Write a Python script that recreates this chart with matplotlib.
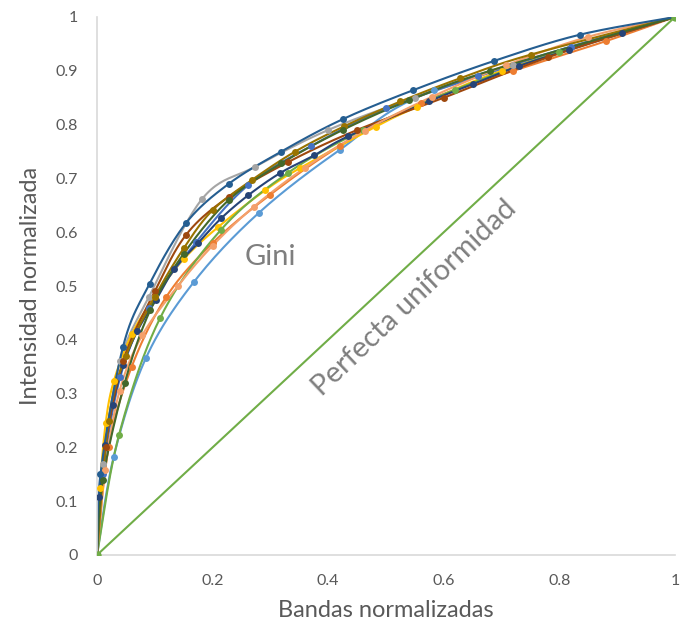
import numpy as np
import matplotlib
matplotlib.use("Agg")
import matplotlib.pyplot as plt

plt.rcParams['font.family'] = ['Lato', 'DejaVu Sans']

# curves (normalised bands vs normalised intensity)
x_lblue = [0, 0.029, 0.085, 0.168, 0.28, 0.42, 0.583, 1]
y_lblue = [0, 0.183, 0.367, 0.508, 0.636, 0.753, 0.864, 1]

x_orange = [0, 0.02, 0.06, 0.12, 0.2, 0.3, 0.42, 0.56, 0.72, 0.88, 1]
y_orange = [0, 0.2, 0.35, 0.48, 0.58, 0.67, 0.76, 0.84, 0.9, 0.955, 1]

x_grey = [0, 0.01, 0.04, 0.09, 0.182, 0.274, 0.4, 0.55, 0.72, 1]
y_grey = [0, 0.17, 0.36, 0.48, 0.662, 0.722, 0.79, 0.85, 0.91, 1]

x_gold = [0, 0.005, 0.015, 0.029, 0.06, 0.1, 0.15, 0.21, 0.291, 0.351, 0.482, 0.554, 0.7, 1]
y_gold = [0, 0.125, 0.245, 0.323, 0.41, 0.48, 0.55, 0.61, 0.678, 0.719, 0.796, 0.833, 0.9, 1]

x_mblue = [0, 0.01, 0.04, 0.09, 0.172, 0.262, 0.37, 0.5, 0.66, 0.82, 1]
y_mblue = [0, 0.15, 0.33, 0.46, 0.582, 0.688, 0.76, 0.83, 0.89, 0.945, 1]

x_green = [0, 0.038, 0.109, 0.214, 0.33, 0.46, 0.62, 0.8, 1]
y_green = [0, 0.223, 0.44, 0.604, 0.71, 0.79, 0.865, 0.935, 1]

x_navy = [0, 0.004, 0.014, 0.027, 0.045, 0.07, 0.102, 0.134, 0.175, 0.215, 0.262,
          0.317, 0.376, 0.434, 0.574, 0.65, 0.73, 0.817, 0.909, 1]
y_navy = [0, 0.108, 0.204, 0.279, 0.353, 0.417, 0.474, 0.532, 0.58, 0.626, 0.669,
          0.71, 0.743, 0.778, 0.843, 0.875, 0.909, 0.939, 0.97, 1]

x_brown = [0, 0.015, 0.045, 0.1, 0.154, 0.228, 0.33, 0.45, 0.6, 0.78, 1]
y_brown = [0, 0.2, 0.36, 0.49, 0.595, 0.666, 0.73, 0.79, 0.85, 0.925, 1]

x_salmon = [0, 0.014, 0.039, 0.078, 0.14, 0.2, 0.271, 0.36, 0.463, 0.58, 0.707, 0.849, 1]
y_salmon = [0, 0.158, 0.305, 0.408, 0.5, 0.575, 0.647, 0.72, 0.789, 0.852, 0.91, 0.963, 1]

x_olive = [0, 0.02, 0.05, 0.1, 0.15, 0.2, 0.268, 0.343, 0.428, 0.525, 0.628, 0.75, 1]
y_olive = [0, 0.25, 0.37, 0.48, 0.57, 0.641, 0.697, 0.75, 0.797, 0.843, 0.886, 0.93, 1]

x_dgreen = [0, 0.01, 0.048, 0.092, 0.15, 0.228, 0.319, 0.425, 0.54, 0.68, 1]
y_dgreen = [0, 0.14, 0.32, 0.455, 0.56, 0.66, 0.728, 0.79, 0.845, 0.9, 1]

x_top = [0, 0.006, 0.045, 0.091, 0.154, 0.228, 0.319, 0.425, 0.547, 0.686, 0.835, 1]
y_top = [0, 0.15, 0.387, 0.504, 0.617, 0.69, 0.75, 0.81, 0.864, 0.918, 0.967, 1]

x_uniform = [0, 1]
y_uniform = [0, 1]

series = [
    (x_lblue, y_lblue, '#5B9BD5'),
    (x_orange, y_orange, '#ED7D31'),
    (x_grey, y_grey, '#A5A5A5'),
    (x_gold, y_gold, '#FFC000'),
    (x_mblue, y_mblue, '#4472C4'),
    (x_green, y_green, '#70AD47'),
    (x_navy, y_navy, '#264478'),
    (x_brown, y_brown, '#9E480E'),
    (x_salmon, y_salmon, '#F4A06B'),
    (x_olive, y_olive, '#997300'),
    (x_dgreen, y_dgreen, '#43682B'),
    (x_top, y_top, '#255E91'),
]


def smooth(x, y, n=24):
    # excel-like smoothed line: bezier through the points
    pts = np.column_stack([x, y]).astype(float)
    p = np.vstack([pts[0], pts, pts[-1]])
    t = np.linspace(0, 1, n)[:, None]
    out = []
    for i in range(1, len(p) - 2):
        p0, p1, p2, p3 = p[i - 1], p[i], p[i + 1], p[i + 2]
        c1 = p1 + (p2 - p0) / 6
        c2 = p2 - (p3 - p1) / 6
        out.append((1 - t) ** 3 * p1 + 3 * (1 - t) ** 2 * t * c1
                   + 3 * (1 - t) * t ** 2 * c2 + t ** 3 * p2)
    s = np.vstack(out)
    return s[:, 0], s[:, 1]


fig = plt.figure(figsize=(6.8, 6.27), dpi=100)
ax = fig.add_axes([97 / 680, 72 / 627, 578 / 680, 538 / 627])

for xs, ys, c in series:
    sx, sy = smooth(xs, ys)
    ax.plot(sx, sy, color=c, lw=1.5, solid_capstyle='round', zorder=2)
    ax.plot(xs, ys, 'o', color=c, ms=5, mew=0, zorder=3)

ax.plot(x_uniform, y_uniform, color='#70AD47', lw=1.5, marker='o', ms=6, mew=0, zorder=4)

ax.set_xlim(0, 1)
ax.set_ylim(0, 1)
ax.set_xticks(np.arange(0, 1.01, 0.2))
ax.set_yticks(np.arange(0, 1.01, 0.1))
ax.set_xticklabels(['0', '0.2', '0.4', '0.6', '0.8', '1'])
ax.set_yticklabels(['0'] + ['%.1f' % v for v in np.arange(0.1, 0.95, 0.1)] + ['1'])
ax.tick_params(length=0, labelsize=11.5, labelcolor='#595959', pad=14)

for s in ['top', 'right']:
    ax.spines[s].set_visible(False)
for s in ['left', 'bottom']:
    ax.spines[s].set_color('#D9D9D9')
    ax.spines[s].set_linewidth(1.2)

ax.set_xlabel('Bandas normalizadas', fontsize=17, color='#595959', labelpad=8)
ax.set_ylabel('Intensidad normalizada', fontsize=17, color='#595959', labelpad=10)

ax.text(0.30, 0.553, 'Gini', fontsize=21, color='#7F7F7F', ha='center', va='center')
ax.text(0.55, 0.478, 'Perfecta uniformidad', fontsize=21, color='#7F7F7F',
        ha='center', va='center', rotation=43.6, rotation_mode='anchor')

fig.savefig('out.png', dpi=100)
